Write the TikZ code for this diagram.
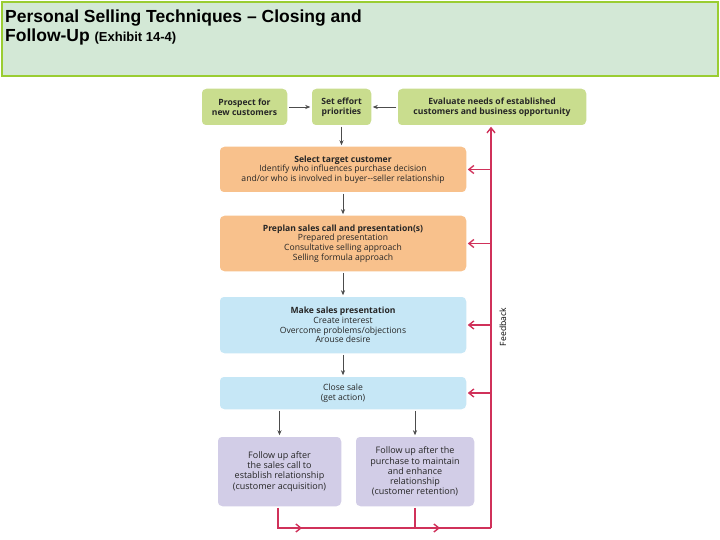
\documentclass[tikz,border=0pt]{standalone}
\usepackage{fontspec}
\setmainfont{Liberation Sans}
\newfontfamily\boxfont{Open Sans}
\usetikzlibrary{arrows.meta,decorations.markings}
\definecolor{tgreen}{HTML}{D3E8D6}
\definecolor{tborder}{HTML}{9ACD32}
\definecolor{bgreen}{HTML}{C9DD8E}
\definecolor{borange}{HTML}{F8C18C}
\definecolor{bblue}{HTML}{C6E7F6}
\definecolor{blav}{HTML}{D2CDE7}
\definecolor{fb}{HTML}{D0315A}
\tikzset{
 bx/.style={rounded corners=5pt,draw=white,line width=1.5pt,align=center,inner sep=0pt,font=\boxfont\fontsize{8.6}{9.6}\selectfont,text=black!85},
 ar/.style={-{Stealth[length=5pt,width=4pt]},draw=black!70,line width=0.6pt},
 fbl/.style={draw=fb,line width=1.4pt},
 fba/.style={fbl,-{Straight Barb[length=5pt,width=8pt]}},
}
\begin{document}
\begin{tikzpicture}[x=1pt,y=-1pt]
\useasboundingbox (0,0) rectangle (720,540);
\fill[white] (0,0) rectangle (720,540);
\node[draw=tborder,line width=1.5pt,fill=tgreen,minimum width=716,minimum height=74,inner sep=0pt] (title) at (360,39) {};
\node[anchor=north west,align=left,inner sep=0pt,font=\bfseries\fontsize{17.5}{19}\selectfont] (tt) at (5,10) {Personal Selling Techniques -- Closing and\\Follow-Up {\fontsize{13}{15}\selectfont (Exhibit 14-4)}};
% boxes
\node[bx,fill=bgreen,minimum width=87,minimum height=38] (p) at (244.5,107) {\textbf{Prospect for}\\\textbf{new customers}};
\node[bx,fill=bgreen,minimum width=61,minimum height=38] (s) at (341.5,107) {\textbf{Set effort}\\\textbf{priorities}};
\node[bx,fill=bgreen,minimum width=190,minimum height=38] (e) at (492,107) {\textbf{Evaluate needs of established}\\\textbf{customers and business opportunity}};
\node[bx,fill=borange,minimum width=248,minimum height=47] (t) at (343,169.5) {\textbf{Select target customer}\\Identify who influences purchase decision\\and/or who is involved in buyer--seller relationship};
\node[bx,fill=borange,minimum width=248,minimum height=57] (pp) at (343,243.5) {\textbf{Preplan sales call and presentation(s)}\\Prepared presentation\\Consultative selling approach\\Selling formula approach};
\node[bx,fill=bblue,minimum width=248,minimum height=58] (m) at (343,325) {\textbf{Make sales presentation}\\Create interest\\Overcome problems/objections\\Arouse desire};
\node[bx,fill=bblue,minimum width=248,minimum height=34] (c) at (343,393) {Close sale\\(get action)};
\node[bx,fill=blav,minimum width=125,minimum height=71,font=\boxfont\fontsize{9}{10.2}\selectfont] (f1) at (279.5,471.5) {Follow up after\\the sales call to\\establish relationship\\(customer acquisition)};
\node[bx,fill=blav,minimum width=120,minimum height=71,font=\boxfont\fontsize{9}{10.2}\selectfont] (f2) at (415,471.5) {Follow up after the\\purchase to maintain\\and enhance\\relationship\\(customer retention)};
% arrows
\draw[ar] (p) -- (s);
\draw[ar] (e) -- (s);
\draw[ar] (s) -- (s|-t.north);
\draw[ar] (t) -- (pp);
\draw[ar] (pp) -- (m);
\draw[ar] (m) -- (c);
\draw[ar] (c.south-|f1) -- (f1);
\draw[ar] (c.south-|f2) -- (f2);
% feedback
\coordinate (b1) at (278,528);
\coordinate (b2) at (415,528);
\coordinate (br) at (491,528);
\draw[fbl] (f1.south-|b1) -- (b1) -- (br);
\draw[fbl] (f2.south) -- (b2);
\draw[fba] (b1) -- (302,528);
\draw[fba] (b2) -- (440,528);
\draw[fba] (br) -- (br|-e.south);
\foreach \n in {t,pp,m,c} \draw[fba] (491,0|-\n.east) -- (\n.east);
\node[rotate=90,font=\boxfont\fontsize{8.6}{10}\selectfont,inner sep=0pt] (fl) at (503,327) {Feedback};
\end{tikzpicture}
\end{document}
